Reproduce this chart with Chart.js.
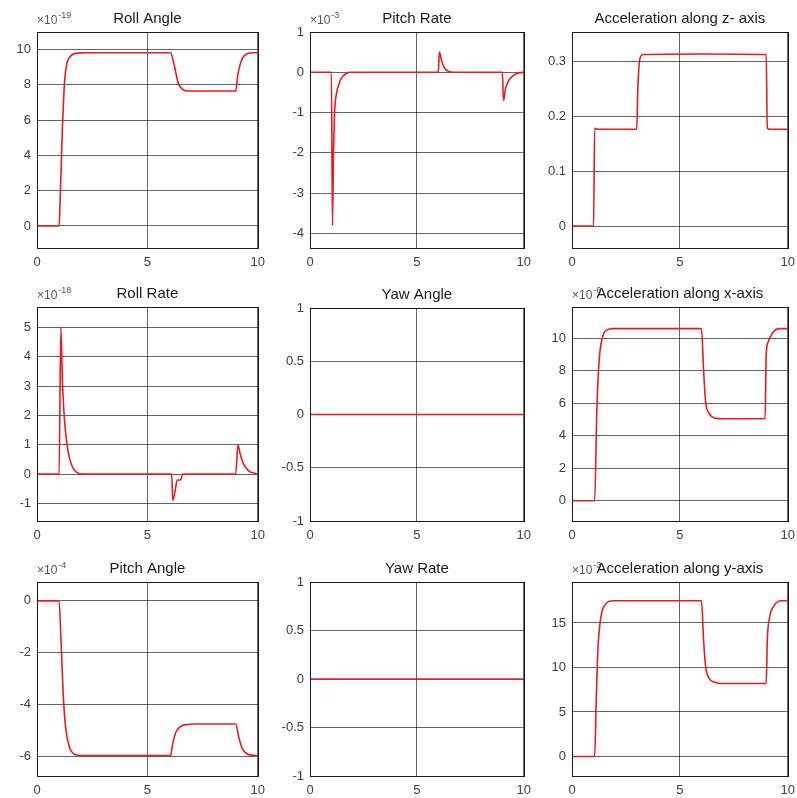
<!DOCTYPE html>
<html lang="en">
<head>
    <meta charset="UTF-8">
    <script src="https://cdn.jsdelivr.net/npm/chart.js"></script>
    <style>
        body { margin: 0; background: #fff; width: 797px; height: 798px; overflow: hidden; position: relative; }
        canvas { position: absolute; }
    </style>
</head>
<body>
    <div id="wrap"></div>

    <script>
        // time axis shared by all panels
        var xTicks = [0, 5, 10];

        // Roll Angle (x1e-19)
        var rollAngleT = [0, 1.0, 1.05, 1.15, 1.25, 1.35, 1.5, 1.8, 2.2, 6.05, 6.2, 6.4, 6.6, 6.9, 9.0, 9.1, 9.3, 9.5, 9.8, 10];
        var rollAngleY = [0, 0, 1.5, 5.5, 8.2, 9.2, 9.6, 9.8, 9.82, 9.82, 9.2, 8.1, 7.75, 7.65, 7.65, 8.6, 9.5, 9.75, 9.82, 9.82];
        var rollAngleTicks = [0, 2, 4, 6, 8, 10];

        // Pitch Rate (x1e-3)
        var pitchRateT = [0, 1.0, 1.05, 1.1, 1.15, 1.25, 1.35, 1.5, 1.7, 1.9, 6.0, 6.05, 6.15, 6.3, 6.5, 6.7, 9.0, 9.05, 9.15, 9.3, 9.5, 9.8, 10];
        var pitchRateY = [0, 0, -3.8, -2.0, -1.0, -0.5, -0.3, -0.12, -0.03, 0, 0, 0.5, 0.3, 0.1, 0.02, 0, 0, -0.7, -0.4, -0.2, -0.08, -0.01, 0];
        var pitchRateTicks = [-4, -3, -2, -1, 0, 1];

        // Acceleration along z- axis
        var accZT = [0, 1.0, 1.05, 1.2, 3.0, 3.05, 3.15, 3.3, 6.0, 9.0, 9.05, 9.2, 10];
        var accZY = [0, 0, 0.178, 0.176, 0.176, 0.25, 0.305, 0.312, 0.313, 0.312, 0.178, 0.176, 0.176];
        var accZTicks = [0, 0.1, 0.2, 0.3];

        // Roll Rate (x1e-18)
        var rollRateT = [0, 1.0, 1.08, 1.15, 1.25, 1.4, 1.6, 1.8, 2.1, 6.1, 6.15, 6.25, 6.35, 6.5, 6.6, 9.0, 9.1, 9.2, 9.35, 9.6, 9.9, 10];
        var rollRateY = [0, 0, 5.0, 3.2, 1.8, 0.8, 0.25, 0.06, 0, 0, -0.9, -0.6, -0.2, -0.2, 0, 0, 1.0, 0.7, 0.35, 0.1, 0.02, 0];
        var rollRateTicks = [-1, 0, 1, 2, 3, 4, 5];

        // Yaw Angle
        var yawAngleT = [0, 10];
        var yawAngleY = [0, 0];
        var yawTicks = [-1, -0.5, 0, 0.5, 1];

        // Acceleration along x-axis
        var accXT = [0, 1.05, 1.15, 1.25, 1.4, 1.6, 1.9, 6.0, 6.1, 6.2, 6.35, 6.6, 7.0, 8.95, 9.0, 9.1, 9.3, 9.6, 10];
        var accXY = [0, 0, 5.5, 8.5, 10.0, 10.5, 10.6, 10.6, 8.0, 6.0, 5.4, 5.1, 5.05, 5.05, 9.0, 9.8, 10.35, 10.6, 10.6];
        var accXTicks = [0, 2, 4, 6, 8, 10];

        // Pitch Angle (x1e-4)
        var pitchAngleT = [0, 1.0, 1.1, 1.2, 1.3, 1.45, 1.6, 1.8, 2.2, 6.05, 6.15, 6.3, 6.5, 6.8, 7.2, 9.0, 9.15, 9.3, 9.5, 9.8, 10];
        var pitchAngleY = [0, 0, -1.8, -3.8, -4.9, -5.6, -5.85, -5.95, -5.97, -5.97, -5.5, -5.05, -4.85, -4.77, -4.75, -4.75, -5.3, -5.7, -5.9, -5.96, -5.97];
        var pitchAngleTicks = [-6, -4, -2, 0];

        // Yaw Rate
        var yawRateT = [0, 10];
        var yawRateY = [0, 0];

        // Acceleration along y-axis
        var accYT = [0, 1.05, 1.12, 1.2, 1.35, 1.55, 1.9, 6.0, 6.1, 6.2, 6.35, 6.6, 7.0, 9.0, 9.05, 9.15, 9.35, 9.7, 10];
        var accYY = [0, 0, 6, 12, 15.8, 17.1, 17.5, 17.5, 13, 10, 8.8, 8.35, 8.2, 8.2, 13, 15.5, 16.9, 17.5, 17.5];
        var accYTicks = [0, 5, 10, 15];

        var panels = [
            { title: "Roll Angle", exp: "-19", t: rollAngleT, y: rollAngleY, ticks: rollAngleTicks, min: -1.25, max: 11, box: [37, 32, 258, 248] },
            { title: "Pitch Rate", exp: "-3", t: pitchRateT, y: pitchRateY, ticks: pitchRateTicks, min: -4.36, max: 1, box: [310, 32, 524, 248] },
            { title: "Acceleration along z- axis", exp: null, t: accZT, y: accZY, ticks: accZTicks, min: -0.04, max: 0.353, box: [572, 32, 788, 248] },
            { title: "Roll Rate", exp: "-18", t: rollRateT, y: rollRateY, ticks: rollRateTicks, min: -1.6, max: 5.7, box: [37, 307, 258, 521] },
            { title: "Yaw Angle", exp: null, t: yawAngleT, y: yawAngleY, ticks: yawTicks, min: -1, max: 1, box: [310, 308, 524, 521] },
            { title: "Acceleration along x-axis", exp: "-6", t: accXT, y: accXY, ticks: accXTicks, min: -1.25, max: 11.93, box: [572, 307, 788, 521] },
            { title: "Pitch Angle", exp: "-4", t: pitchAngleT, y: pitchAngleY, ticks: pitchAngleTicks, min: -6.76, max: 0.73, box: [37, 582, 258, 776] },
            { title: "Yaw Rate", exp: null, t: yawRateT, y: yawRateY, ticks: yawTicks, min: -1, max: 1, box: [310, 582, 524, 776] },
            { title: "Acceleration along y-axis", exp: "-3", t: accYT, y: accYY, ticks: accYTicks, min: -2.19, max: 19.6, box: [572, 582, 788, 776] }
        ];

        var FONT = "'Liberation Sans', Arial, sans-serif";
        var YW = 36, TOPPAD = 30, RIGHTPAD = 10, XH = 24;

        // draws box, title and the x10^n label
        var framePlugin = {
            id: 'frame',
            afterDraw: function (chart) {
                var p = chart.options.plugins.frame;
                var a = chart.chartArea;
                var ctx = chart.ctx;
                ctx.save();
                ctx.strokeStyle = '#1a1a1a';
                ctx.lineWidth = 1;
                ctx.strokeRect(Math.round(a.left) + 0.5, Math.round(a.top) + 0.5, Math.round(a.right - a.left), Math.round(a.bottom - a.top));
                if (p.exp) {
                    ctx.fillStyle = '#555';
                    ctx.textBaseline = 'alphabetic';
                    ctx.textAlign = 'left';
                    ctx.font = "12px " + FONT;
                    ctx.fillText("\u00d710", a.left, a.top - 8);
                    var w = ctx.measureText("\u00d710").width;
                    ctx.font = "9px " + FONT;
                    ctx.fillText(p.exp, a.left + w + 1, a.top - 14);
                }
                ctx.fillStyle = '#1a1a1a';
                ctx.font = "15px " + FONT;
                ctx.textAlign = 'center';
                ctx.textBaseline = 'middle';
                ctx.fillText(p.title, (a.left + a.right) / 2, a.top - 13);
                ctx.restore();
            }
        };

        var wrap = document.getElementById("wrap");
        panels.forEach(function (p, i) {
            var b = p.box;
            var cv = document.createElement("canvas");
            // chart.js keeps a few extra px on the right, so add 4
            var w = (b[2] - b[0]) + YW + RIGHTPAD + 4;
            var h = (b[3] - b[1]) + TOPPAD + XH;
            cv.width = w;
            cv.height = h;
            cv.style.left = (b[0] - YW) + "px";
            cv.style.top = (b[1] - TOPPAD) + "px";
            cv.style.width = w + "px";
            cv.style.height = h + "px";
            wrap.appendChild(cv);

            var pts = p.t.map(function (t, k) { return { x: t, y: p.y[k] }; });

            new Chart(cv.getContext("2d"), {
                type: "line",
                data: {
                    datasets: [{
                        data: pts,
                        borderColor: "rgb(232, 28, 32)",
                        borderWidth: 1.6,
                        pointRadius: 0,
                        cubicInterpolationMode: 'monotone',
                        fill: false
                    }]
                },
                plugins: [framePlugin],
                options: {
                    responsive: false,
                    animation: false,
                    events: [],
                    layout: { padding: { top: TOPPAD, right: RIGHTPAD, left: 0, bottom: 0 } },
                    plugins: {
                        legend: { display: false },
                        tooltip: { enabled: false },
                        frame: { title: p.title, exp: p.exp }
                    },
                    scales: {
                        x: {
                            type: 'linear',
                            min: 0,
                            max: 10,
                            afterBuildTicks: function (s) { s.ticks = xTicks.map(function (v) { return { value: v }; }); },
                            afterFit: function (s) { s.height = XH; },
                            grid: { color: 'rgba(0,0,0,0.6)', lineWidth: 1, drawTicks: false },
                            border: { display: false },
                            ticks: { color: '#404040', font: { size: 13, family: FONT }, padding: 7, maxRotation: 0, autoSkip: false }
                        },
                        y: {
                            type: 'linear',
                            min: p.min,
                            max: p.max,
                            afterBuildTicks: function (s) { s.ticks = p.ticks.map(function (v) { return { value: v }; }); },
                            afterFit: function (s) { s.width = YW; },
                            grid: { color: 'rgba(0,0,0,0.6)', lineWidth: 1, drawTicks: false },
                            border: { display: false },
                            ticks: {
                                color: '#404040', font: { size: 13, family: FONT }, padding: 6, autoSkip: false,
                                callback: function (v) { return String(v); }
                            }
                        }
                    }
                }
            });
        });
    </script>
</body>
</html>
